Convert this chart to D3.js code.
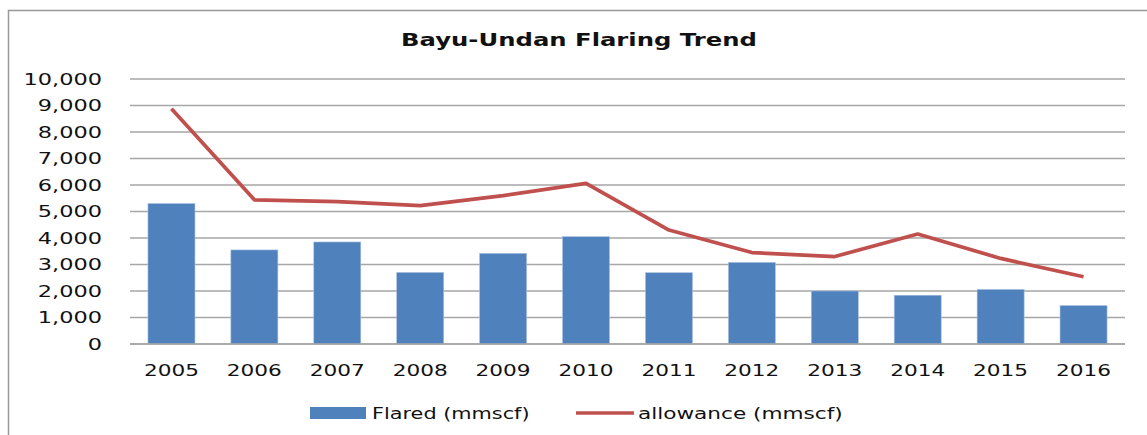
<!DOCTYPE html>
<html>
<head>
    <title>Bayu-Undan Flaring Trend</title>
    <script src="https://d3js.org/d3.v7.min.js"></script>
    <style>
        body { margin: 0; background: #fff; }
        svg { display: block; }
        text { font-family: "DejaVu Sans", sans-serif; fill: #111; }
    </style>
</head>
<body>
    <svg id="chart"></svg>
    <script>
        const years = ["2005", "2006", "2007", "2008", "2009", "2010", "2011", "2012", "2013", "2014", "2015", "2016"];
        const flared = [5300, 3550, 3850, 2700, 3420, 4050, 2690, 3080, 2000, 1840, 2060, 1450];
        const allowance = [8880, 5440, 5370, 5220, 5600, 6060, 4300, 3450, 3300, 4150, 3230, 2540];
        const yTicks = [0, 1000, 2000, 3000, 4000, 5000, 6000, 7000, 8000, 9000, 10000];

        const width = 1147;
        const height = 435;
        const stretch = 1.35; // the source text is wide, stretch glyphs to match

        const svg = d3.select("#chart")
            .attr("width", width)
            .attr("height", height);

        // outer chart border (right and bottom edges fall outside the picture)
        svg.append("path")
            .attr("d", `M8.5,${height} L8.5,10.5 L${width},10.5`)
            .attr("fill", "none")
            .attr("stroke", "#999")
            .attr("stroke-width", 1.5);

        const x = d3.scaleBand()
            .domain(years)
            .range([130, 1125])
            .paddingInner(0.433)
            .paddingOuter(0.2165);

        const y = d3.scaleLinear()
            .domain([0, 10000])
            .range([344, 79]);

        function widen(sel, k) {
            sel.each(function() {
                const w = this.getComputedTextLength();
                d3.select(this)
                    .attr("textLength", w * (k || stretch))
                    .attr("lengthAdjust", "spacingAndGlyphs");
            });
        }

        // gridlines
        svg.append("g")
            .selectAll("line")
            .data(yTicks)
            .enter().append("line")
            .attr("x1", 130)
            .attr("x2", 1125)
            .attr("y1", d => y(d))
            .attr("y2", d => y(d))
            .attr("stroke", "#a6a6a6")
            .attr("stroke-width", 1.4);

        // y tick labels
        svg.append("g")
            .selectAll("text")
            .data(yTicks)
            .enter().append("text")
            .attr("x", 102)
            .attr("y", d => y(d))
            .attr("dy", "0.36em")
            .attr("text-anchor", "end")
            .style("font-size", "16px")
            .text(d => d3.format(",")(d))
            .call(widen, 1.4);

        // bars
        svg.append("g")
            .selectAll("rect")
            .data(flared)
            .enter().append("rect")
            .attr("x", (d, i) => x(years[i]))
            .attr("width", x.bandwidth())
            .attr("y", d => y(d))
            .attr("height", d => y(0) - y(d))
            .attr("fill", "#4f81bd")
            .attr("stroke", "#a9c1e0")
            .attr("stroke-width", 0.6);

        // baseline on top of bars
        svg.append("line")
            .attr("x1", 130).attr("x2", 1125)
            .attr("y1", y(0)).attr("y2", y(0))
            .attr("stroke", "#a6a6a6")
            .attr("stroke-width", 1.4);

        // allowance line
        const line = d3.line()
            .x((d, i) => x(years[i]) + x.bandwidth() / 2)
            .y(d => y(d));

        svg.append("path")
            .datum(allowance)
            .attr("d", line)
            .attr("fill", "none")
            .attr("stroke", "#c0504d")
            .attr("stroke-width", 3.7)
            .attr("stroke-linejoin", "round");

        // x labels
        svg.append("g")
            .selectAll("text")
            .data(years)
            .enter().append("text")
            .attr("x", d => x(d) + x.bandwidth() / 2)
            .attr("y", 376)
            .attr("text-anchor", "middle")
            .style("font-size", "16px")
            .text(d => d)
            .call(widen);

        // title
        svg.append("text")
            .attr("x", 579)
            .attr("y", 46)
            .attr("text-anchor", "middle")
            .style("font-size", "18px")
            .style("font-weight", "bold")
            .text("Bayu-Undan Flaring Trend")
            .call(widen);

        // legend
        const legend = svg.append("g");
        legend.append("rect")
            .attr("x", 310).attr("y", 407)
            .attr("width", 56).attr("height", 12)
            .attr("fill", "#4f81bd");
        legend.append("text")
            .attr("x", 372).attr("y", 419)
            .style("font-size", "16px")
            .text("Flared (mmscf)")
            .call(widen, 1.3);
        legend.append("line")
            .attr("x1", 576).attr("x2", 634)
            .attr("y1", 413).attr("y2", 413)
            .attr("stroke", "#c0504d")
            .attr("stroke-width", 3.7);
        legend.append("text")
            .attr("x", 638).attr("y", 419)
            .style("font-size", "16px")
            .text("allowance (mmscf)")
            .call(widen);
    </script>
</body>
</html>
